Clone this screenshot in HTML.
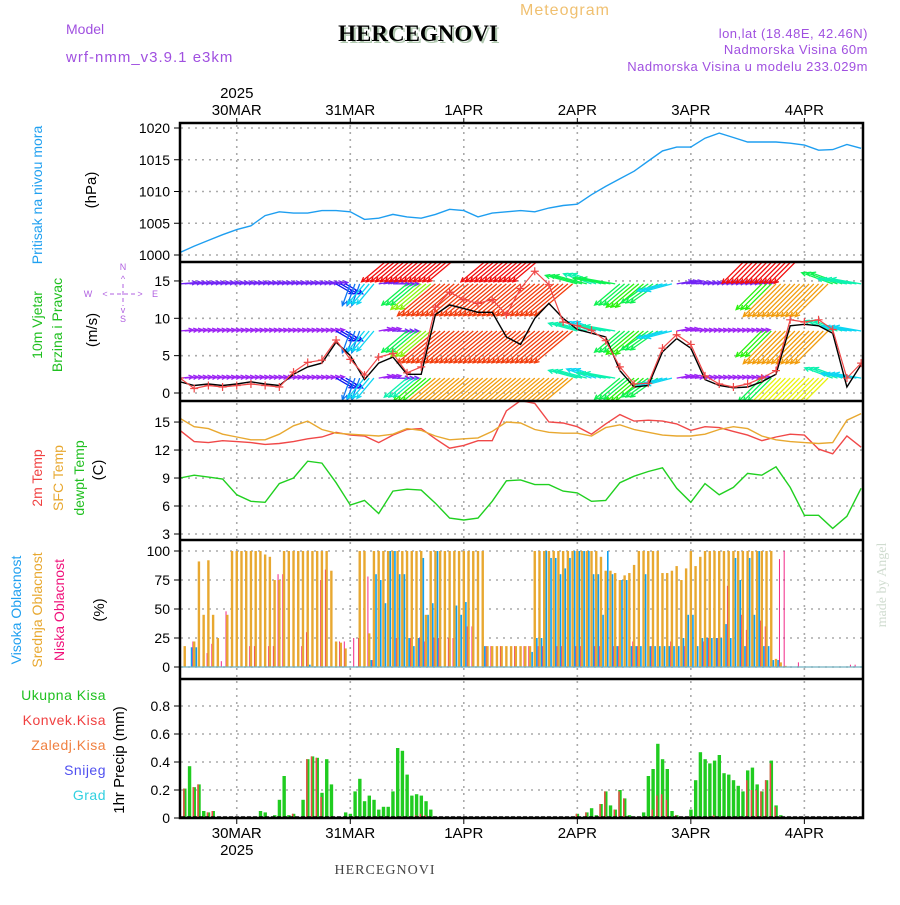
<!DOCTYPE html>
<html><head><meta charset="utf-8"><style>
body{margin:0;background:#fff}
svg text{font-family:"Liberation Sans",sans-serif}
</style></head><body>
<svg id="chart" width="900" height="900" viewBox="0 0 900 900" xmlns="http://www.w3.org/2000/svg">
<defs>
<clipPath id="clipW"><rect x="181" y="263" width="681" height="137"/></clipPath>
<clipPath id="clipT"><rect x="181" y="402" width="681" height="137"/></clipPath>
</defs>
<rect width="900" height="900" fill="#fff"/>
<text x="520" y="15" font-size="16" fill="#f0c070" letter-spacing="1">Meteogram</text>
<text x="66" y="34" font-size="14" fill="#a050e0">Model</text>
<text x="420" y="43" font-size="23" font-weight="bold" text-anchor="middle" fill="#b0c8b0" style="font-family:'Liberation Serif',serif">HERCEGNOVI</text>
<text x="418" y="41" font-size="23" font-weight="bold" text-anchor="middle" fill="#000" style="font-family:'Liberation Serif',serif">HERCEGNOVI</text>
<text x="66" y="62" font-size="15" fill="#a050e0" letter-spacing="1">wrf-nmm_v3.9.1 e3km</text>
<text x="868" y="38" font-size="13" fill="#a050e0" text-anchor="end" letter-spacing="0.5">lon,lat (18.48E, 42.46N)</text>
<text x="868" y="54" font-size="13" fill="#a050e0" text-anchor="end" letter-spacing="0.5">Nadmorska Visina 60m</text>
<text x="868" y="71" font-size="13" fill="#a050e0" text-anchor="end" letter-spacing="0.5">Nadmorska Visina u modelu 233.029m</text>

<text transform="translate(42,195) rotate(-90)" font-size="14" fill="#20a0f0" text-anchor="middle">Pritisak na nivou mora</text>
<text transform="translate(96,190) rotate(-90)" font-size="15" fill="#000" text-anchor="middle">(hPa)</text>
<text transform="translate(42,325) rotate(-90)" font-size="14" fill="#20c020" text-anchor="middle">10m Vjetar</text>
<text transform="translate(62,325) rotate(-90)" font-size="14" fill="#20c020" text-anchor="middle">Brzina i Pravac</text>
<text transform="translate(97,330) rotate(-90)" font-size="15" fill="#000" text-anchor="middle">(m/s)</text>
<g fill="#b060e0" font-size="9" stroke="none">
<text x="123" y="270" text-anchor="middle">N</text><text x="123" y="322" text-anchor="middle">S</text>
<text x="88" y="297" text-anchor="middle">W</text><text x="155" y="297" text-anchor="middle">E</text>
<text x="123" y="282" text-anchor="middle">^</text><text x="123" y="313" text-anchor="middle">v</text>
<text x="105" y="297" text-anchor="middle">&lt;</text><text x="140" y="297" text-anchor="middle">&gt;</text>
<line x1="110" y1="294" x2="136" y2="294" stroke="#b060e0" stroke-dasharray="4,3"/>
<line x1="123" y1="284" x2="123" y2="306" stroke="#b060e0" stroke-dasharray="4,3"/>
</g>
<text transform="translate(42,478) rotate(-90)" font-size="14" fill="#f04040" text-anchor="middle">2m Temp</text>
<text transform="translate(63,478) rotate(-90)" font-size="14" fill="#e8a830" text-anchor="middle">SFC Temp</text>
<text transform="translate(84,478) rotate(-90)" font-size="14" fill="#20c020" text-anchor="middle">dewpt Temp</text>
<text transform="translate(103,470) rotate(-90)" font-size="15" fill="#000" text-anchor="middle">(C)</text>
<text transform="translate(21,610) rotate(-90)" font-size="14" fill="#20a0f0" text-anchor="middle">Visoka Oblacnost</text>
<text transform="translate(42,610) rotate(-90)" font-size="14" fill="#e8a830" text-anchor="middle">Srednja Oblacnost</text>
<text transform="translate(64,610) rotate(-90)" font-size="14" fill="#f0107a" text-anchor="middle">Niska Oblacnost</text>
<text transform="translate(104,610) rotate(-90)" font-size="15" fill="#000" text-anchor="middle">(%)</text>
<g font-size="14" text-anchor="end" letter-spacing="0.5">
<text x="106" y="700" fill="#20c020">Ukupna Kisa</text>
<text x="106" y="725" fill="#f04040">Konvek.Kisa</text>
<text x="106" y="750" fill="#f08040">Zaledj.Kisa</text>
<text x="106" y="775" fill="#5050f0">Snijeg</text>
<text x="106" y="800" fill="#30d0e0">Grad</text>
</g>
<text transform="translate(124,760) rotate(-90)" font-size="15" fill="#000" text-anchor="middle">1hr Precip (mm)</text>
<text transform="translate(886,585) rotate(-90)" font-size="14" fill="#d0dcd0" text-anchor="middle" style="font-family:'Liberation Serif',serif">made by Angel</text>
<text x="385" y="874" font-size="14" fill="#444" text-anchor="middle" letter-spacing="1" style="font-family:'Liberation Serif',serif">HERCEGNOVI</text>
<g id="grid"></g>
<g id="marks"></g>
<g id="frame"></g>
</svg>
<script>
// ---- data (hours from 29MAR 12Z) ----
const dayLabels = ["30MAR","31MAR","1APR","2APR","3APR","4APR"];
const dayHours = [12,36,60,84,108,132];
const pressTicks = [1000,1005,1010,1015,1020];
const windTicks = [0,5,10,15];
const tempTicks = [3,6,9,12,15];
const cloudTicks = [0,25,50,75,100];
const precipTicks = [0,0.2,0.4,0.6,0.8];
const precipTickLabels = ["0","0.2","0.4","0.6","0.8"];
// 3-hourly series
const pressure = [1000.4,1001.4,1002.3,1003.2,1004.0,1004.6,1006.2,1006.8,1006.6,1006.6,1007.0,1007.0,1006.8,1005.6,1005.8,1006.4,1006.0,1005.8,1006.4,1007.2,1007.0,1006.0,1006.6,1006.8,1007.0,1006.8,1007.4,1007.8,1008.0,1009.5,1010.8,1012.0,1013.2,1014.8,1016.4,1017.0,1017.0,1018.4,1019.2,1018.5,1017.8,1017.8,1017.8,1017.6,1017.3,1016.5,1016.6,1017.4,1016.8];
const temp2m = [14.1,12.9,12.8,13.0,12.9,12.8,12.6,12.7,12.9,13.2,13.4,13.9,13.6,13.5,12.8,13.6,14.2,14.3,13.2,12.2,12.5,13.0,13.0,16.2,17.3,17.0,15.0,14.9,14.5,13.7,14.8,15.8,15.1,15.2,15.1,14.8,14.1,14.5,14.4,14.0,13.6,13.0,13.4,13.7,13.6,12.1,11.6,13.5,12.3];
const tempSfc = [15.4,14.5,14.3,13.7,13.4,13.1,13.1,13.7,14.6,15.1,14.2,13.8,13.7,13.6,13.5,13.7,14.3,14.1,13.5,13.1,13.2,13.3,14.0,15.0,14.9,14.2,13.9,13.8,13.8,13.5,14.4,14.7,14.2,13.9,13.6,13.5,13.5,13.7,14.2,14.5,14.3,13.5,13.1,12.9,12.8,12.7,12.8,15.2,15.9];
const dewpt = [9.0,9.3,9.1,8.9,7.2,6.5,6.4,8.4,9.0,10.8,10.6,8.5,6.1,6.6,5.2,7.6,7.8,7.7,6.3,4.7,4.5,4.7,6.5,8.7,8.8,8.3,8.3,7.6,7.4,6.5,6.6,8.5,9.2,9.7,10.1,7.9,6.4,8.4,7.2,8.0,9.5,9.3,10.2,8.0,5.0,5.0,3.6,4.9,7.9];
const windMean = [1.5,1.0,1.2,1.0,1.2,1.5,1.2,1.0,2.5,3.5,4.0,6.8,5.0,1.8,4.0,4.8,2.5,2.5,10.5,11.8,11.3,10.8,10.8,7.5,6.5,10.0,12.0,10.0,8.5,8.0,7.5,3.0,0.8,1.0,5.5,7.3,6.0,1.8,1.0,0.7,0.8,1.5,2.5,9.0,9.2,9.0,8.0,0.8,3.8];
const windGust = [2.0,0.6,1.0,0.8,1.0,1.2,1.0,0.8,2.8,4.1,4.4,7.1,4.5,2.4,4.8,5.3,2.7,3.5,11.5,13.5,12.5,12.0,12.5,10.5,14.0,16.3,14.5,9.5,9.0,8.4,7.0,3.5,1.2,1.3,6.0,7.8,6.5,2.3,1.2,0.8,1.2,2.0,3.0,9.8,9.5,9.8,8.5,2.0,4.0];
// wind arrows: pointing angle (deg, 0=east, 90=north) and speed at levels
const windDir = [5,5,5,5,5,5,5,5,5,5,5,-30,250,230,10,0,220,220,220,220,220,220,220,220,220,220,220,220,165,160,170,220,220,215,195,10,5,5,5,5,5,225,225,225,225,225,160,170,170];
const windLow = [4,4,4,4,4,4,4,4,4,4,4,6,7,8,4,5,9,11,14,14,14,14,14,14,14,14,14,14,9,8,9,10,11,10,8,4,4,4,4,4,4,10,13,13,13,13,9,8,8];
const windMid = [4,4,4,4,4,4,4,4,4,4,4,6,7,8,4,5,10,12,15,15,15,15,15,15,15,15,15,15,9,8,9,10,11,10,8,4,4,4,4,4,4,11,14,14,14,14,9,8,8];
const windHigh = [5,5,5,5,5,5,5,5,5,5,5,6,7,8,5,5,10,12,15,15,15,15,15,15,15,15,15,15,10,9,10,10,11,10,8,5,5,5,5,5,5,11,14,14,14,14,10,9,9];
const windTop = [0,0,0,0,0,0,0,0,0,0,0,0,0,0,0,0,18,18,18,18,18,0,0,18,18,18,18,0,0,0,0,0,0,0,0,0,0,0,0,0,0,17,17,17,17,0,0,0,0];
// hourly cloud cover (%)
const cloudMid = [0,18,0,22,91,45,92,45,25,0,45,100,100,100,100,100,100,100,97,95,75,75,100,100,100,100,100,100,100,100,100,100,83,22,21,16,0,0,100,100,29,100,100,100,100,100,100,100,100,100,100,100,45,100,100,100,100,100,100,100,100,100,100,100,100,18,18,18,18,18,18,18,18,18,18,100,100,100,100,100,100,100,100,100,100,100,100,100,100,95,83,83,81,75,79,81,88,100,100,100,100,100,81,81,83,87,75,85,100,87,95,100,100,100,100,100,100,100,100,100,100,100,100,100,100,100,7,4,1,0,0,0,0,0,0,0,0,0,0,0,0,0,0,0,0];
const cloudHigh = [0,0,17,17,0,0,0,0,0,0,0,0,0,0,0,0,0,0,0,0,0,0,0,0,0,0,0,2,0,0,0,0,0,0,0,0,0,0,0,0,6,80,75,55,100,100,80,80,25,18,25,94,45,55,100,0,0,0,53,45,56,0,0,0,18,0,0,0,0,0,0,0,0,0,13,25,25,100,94,94,80,85,94,100,100,100,100,80,80,45,100,80,18,75,75,18,18,18,80,18,18,18,18,18,18,18,25,45,45,18,25,25,25,25,25,37,25,94,75,18,94,45,100,18,18,6,6,0,0,0,0,0,0,0,0,0,0,0,0,0,0,0,0,0,0];
const cloudLow = [0,0,22,0,0,12,20,0,5,48,0,0,0,0,18,18,0,0,18,18,80,80,0,0,0,18,30,0,0,75,84,0,0,22,22,0,25,25,0,78,6,0,0,0,0,25,0,0,25,0,25,22,0,25,25,0,25,25,0,0,35,35,0,0,18,18,0,18,0,0,18,0,18,18,0,18,18,0,0,18,18,0,0,18,18,0,0,18,18,0,0,18,18,0,0,22,18,0,0,18,0,0,0,22,0,0,18,0,0,0,22,25,0,25,0,70,0,0,45,32,0,0,40,35,0,0,93,100,0,0,4,0,0,0,0,0,0,0,0,0,0,2,2,0,0];
// hourly precip (mm)
const precipTotal = [0,0.21,0.37,0.22,0.24,0.05,0.04,0.05,0,0,0,0,0,0,0,0,0.01,0.05,0.04,0,0.02,0.13,0.30,0.02,0.03,0,0.13,0.42,0.44,0.43,0.18,0.42,0.24,0,0,0.04,0.03,0.19,0.28,0.12,0.16,0.13,0.06,0.08,0.08,0.19,0.50,0.48,0.31,0.16,0.17,0.16,0.12,0.06,0.01,0,0,0,0,0,0,0,0,0,0,0,0,0,0,0,0,0,0,0,0,0,0,0,0,0,0,0,0,0,0.03,0,0.04,0.07,0.02,0.10,0.19,0.09,0.06,0.20,0.14,0.02,0.01,0,0.04,0.30,0.35,0.53,0.42,0.35,0.05,0.02,0,0,0.06,0.27,0.47,0.42,0.39,0.41,0.45,0.32,0.31,0.27,0.23,0.19,0.34,0.36,0.24,0.19,0.27,0.41,0.09,0.02,0,0,0,0,0,0,0,0,0,0,0,0,0,0,0,0,0];
const precipConv = [0,0.21,0.01,0.22,0.24,0.01,0.04,0.05,0,0,0,0,0,0,0,0,0,0,0,0,0,0,0.01,0,0.03,0,0,0.42,0.44,0.43,0.15,0.01,0.01,0,0,0,0,0.01,0,0,0,0,0,0,0,0,0.01,0.01,0.01,0.01,0.02,0.03,0.02,0,0,0,0,0,0,0,0,0,0,0,0,0,0,0,0,0,0,0,0,0,0,0,0,0,0,0,0,0,0,0,0.03,0,0.04,0.01,0.01,0.10,0.19,0.01,0.06,0.19,0.14,0,0,0,0.01,0.01,0.06,0.16,0.17,0.13,0,0.02,0,0,0.01,0.01,0.01,0.01,0.01,0.02,0.01,0,0,0,0,0.01,0.27,0.20,0.20,0.19,0.27,0.39,0.08,0.01,0,0,0,0,0,0,0,0,0,0,0,0,0,0,0,0,0];

// ---- axes ----
const X0=180, PXH=4.73;
function xH(h){return X0+h*PXH;}
const yP=v=>255-(v-1000)*6.35;
const yW=v=>393-v*7.47;
const yT=v=>534-(v-3)*9.33;
const yC=v=>667-v*1.16;
const yR=v=>818-v*140;
const NS="http://www.w3.org/2000/svg";
function mk(tag,attrs,parent){const e=document.createElementNS(NS,tag);for(const k in attrs)e.setAttribute(k,attrs[k]);parent.appendChild(e);return e;}
const grid=document.getElementById('grid'), marks=document.getElementById('marks'), frame=document.getElementById('frame');
const panels=[{top:123,bot:262,ticks:pressTicks,f:yP,lab:pressTicks.map(String),n:'pressure'},
{top:262,bot:401,ticks:windTicks,f:yW,lab:windTicks.map(String),n:'wind'},
{top:401,bot:540,ticks:tempTicks,f:yT,lab:tempTicks.map(String),n:'temp'},
{top:540,bot:679,ticks:cloudTicks,f:yC,lab:cloudTicks.map(String),n:'cloud'},
{top:679,bot:818,ticks:precipTicks,f:yR,lab:precipTickLabels,n:'precip'}];
panels.forEach(p=>{
 p.ticks.forEach((t,i)=>{
  const y=p.f(t);
  const g=mk('line',{x1:181,x2:862,y1:y,y2:y,stroke:'#aaa','stroke-width':1.6,'stroke-dasharray':'2,5'},grid);
  
  
  const tk=mk('line',{x1:174,x2:180,y1:y,y2:y,stroke:'#000','stroke-width':1},frame);
  
  
  const tx=mk('text',{x:170,y:y+5,'font-size':14,'text-anchor':'end',fill:'#000'},frame);
  tx.textContent=p.lab[i];
  
  
 });
 dayHours.forEach(h=>{
  const g=mk('line',{x1:xH(h),x2:xH(h),y1:p.top+2,y2:p.bot-2,stroke:'#aaa','stroke-width':1.6,'stroke-dasharray':'2,5'},grid);
  
  
 });
});
dayHours.forEach((h,i)=>{
 const x=xH(h);
 let t=mk('text',{x:x,y:115,'font-size':15,'text-anchor':'middle',fill:'#000'},frame);t.textContent=dayLabels[i];
 
 
 t=mk('text',{x:x,y:838,'font-size':15,'text-anchor':'middle',fill:'#000'},frame);t.textContent=dayLabels[i];
 
 
 mk('line',{x1:x,x2:x,y1:118,y2:124,stroke:'#000'},frame);
 mk('line',{x1:x,x2:x,y1:817,y2:824,stroke:'#000'},frame);
});
let yr=mk('text',{x:xH(dayHours[0]),y:98,'font-size':15,'text-anchor':'middle',fill:'#000'},frame);yr.textContent='2025';


yr=mk('text',{x:xH(dayHours[0]),y:855,'font-size':15,'text-anchor':'middle',fill:'#000'},frame);yr.textContent='2025';


const fr=mk('rect',{x:180,y:123,width:683,height:695,fill:'none',stroke:'#000','stroke-width':2.5},frame);


[262,401,540,679].forEach(y=>{const l=mk('line',{x1:180,x2:863,y1:y,y2:y,stroke:'#000','stroke-width':2.5},frame);
 
 });

function line3h(arr,f,color,name,clip,w){
 const pts=arr.map((v,i)=>xH(i*3).toFixed(1)+','+f(v).toFixed(1)).join(' ');
 const a={points:pts,fill:'none',stroke:color,'stroke-width':w||1.4};
 if(clip)a['clip-path']='url(#'+clip+')';
 const e=mk('polyline',a,marks);
 
 
 return e;
}
line3h(pressure,yP,'#1e9ef0','pressure-line');
line3h(temp2m,yT,'#f04848','temp2m-line','clipT');
line3h(tempSfc,yT,'#e8a830','sfc-temp-line','clipT');
line3h(dewpt,yT,'#20d020','dewpoint-line','clipT');

// wind arrows
const wg=mk('g',{'clip-path':'url(#clipW)'},marks);


function colorFor(s){
 const hue=Math.max(0,Math.min(275,275-(s-4.5)*25));
 return 'hsl('+hue+',90%,'+(hue>240?55:50)+'%)';
}
const levels=[{arr:windLow,y:yW(2)},{arr:windMid,y:yW(8.3)},{arr:windHigh,y:yW(14.6)},{arr:windTop,y:yW(20)}];
for(let h=0;h<=144;h++){
 const k=Math.floor(h/3);
 levels.forEach(L=>{
  const s=L.arr[k]; if(!s)return;
  const a=windDir[k]*Math.PI/180, len=s*3.3, x=xH(h), y=L.y;
  const ex=x+len*Math.cos(a), ey=y-len*Math.sin(a);
  const c=colorFor(s);
  const b1=a+Math.PI-0.45, b2=a+Math.PI+0.45;
  const p=mk('path',{d:`M${x.toFixed(1)},${y.toFixed(1)}L${ex.toFixed(1)},${ey.toFixed(1)}M${(ex+5*Math.cos(b1)).toFixed(1)},${(ey-5*Math.sin(b1)).toFixed(1)}L${ex.toFixed(1)},${ey.toFixed(1)}L${(ex+5*Math.cos(b2)).toFixed(1)},${(ey-5*Math.sin(b2)).toFixed(1)}`,stroke:c,'stroke-width':1.3,fill:'none'},wg);
  
  
 });
}
line3h(windMean,yW,'#000','wind-speed-line','clipW',1.4);
line3h(windGust,yW,'#f04848','wind-gust-line','clipW',1.2);
windGust.forEach((v,i)=>{
 const x=xH(i*3), y=yW(v);
 const p=mk('path',{d:`M${x-4},${y}h8M${x},${y-4}v8`,stroke:'#f04848','stroke-width':1.2,'clip-path':'url(#clipW)'},marks);
 
 
});

// cloud bars
for(let h=0;h<=144;h++){
 const x=xH(h);
 if(cloudMid[h]>0){const r=mk('rect',{x:x-1.2,y:yC(cloudMid[h]),width:2.4,height:cloudMid[h]*1.16,fill:'#e8a830'},marks);
  
  }
 if(cloudHigh[h]>0){const r=mk('rect',{x:x+1.3,y:yC(cloudHigh[h]),width:1.6,height:cloudHigh[h]*1.16,fill:'#10a0f0'},marks);
  
  }
 if(cloudLow[h]>0){const r=mk('rect',{x:x+3,y:yC(cloudLow[h]),width:0.9,height:cloudLow[h]*1.16,fill:'#f0107a'},marks);
  
  }
}
const cb=mk('line',{x1:181,x2:862,y1:yC(0),y2:yC(0),stroke:'#70b0c0','stroke-width':1.3},marks);



// precip bars
for(let h=0;h<=144;h++){
 const x=xH(h);
 if(precipTotal[h]>0){const r=mk('rect',{x:x-1.6,y:yR(precipTotal[h]),width:3.4,height:precipTotal[h]*140,fill:'#20cc20'},marks);
  
  }
 if(precipConv[h]>0){const r=mk('rect',{x:x-1.6,y:yR(precipConv[h]),width:1.5,height:precipConv[h]*140,fill:'#f04848'},marks);
  
  }
}
const pb=mk('line',{x1:181,x2:862,y1:yR(0)-1,y2:yR(0)-1,stroke:'#000','stroke-width':1.5,'stroke-dasharray':'4,2'},marks);


</script>
</body></html>
